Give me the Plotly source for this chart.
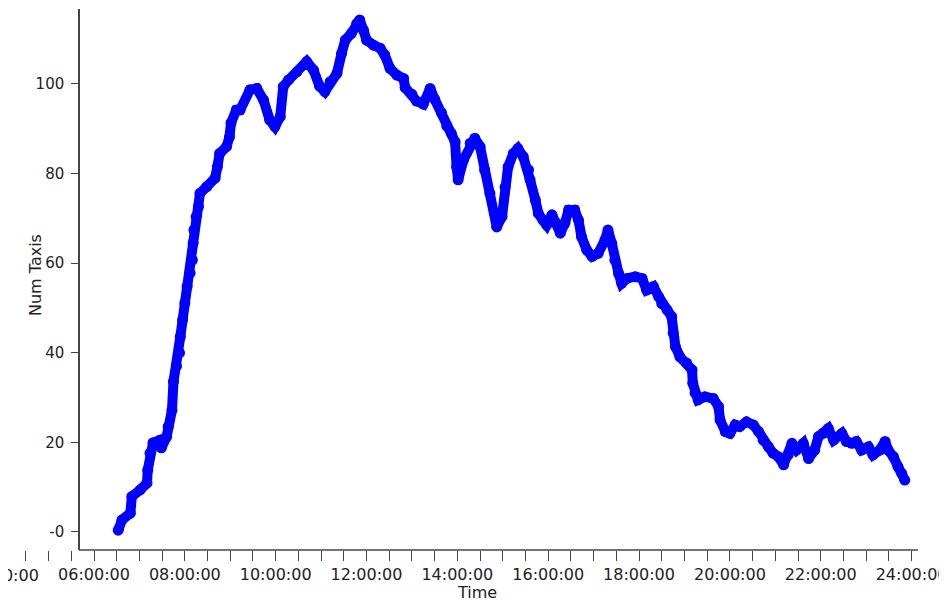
import plotly.graph_objects as go

# ---- data ----
times = [
    "06:32", "06:37", "06:48", "06:50", "07:01", "07:10", "07:11", "07:14", "07:18", "07:27",
    "07:29", "07:36", "07:38", "07:43", "07:45", "07:49", "07:53", "07:54", "07:57", "08:00",
    "08:03", "08:07", "08:10", "08:11", "08:12", "08:15", "08:18", "08:20", "08:29", "08:40",
    "08:43", "08:46", "08:55", "08:59", "09:01", "09:08", "09:13", "09:26", "09:35", "09:44",
    "09:52", "09:59", "10:06", "10:10", "10:17", "10:28", "10:41", "10:50", "10:58", "11:05",
    "11:12", "11:21", "11:27", "11:32", "11:40", "11:47", "11:51", "11:56", "12:00", "12:09",
    "12:18", "12:24", "12:31", "12:40", "12:49", "12:51", "13:00", "13:06", "13:15", "13:24",
    "13:30", "13:39", "13:46", "13:52", "13:57", "13:59", "14:01", "14:08", "14:17", "14:23",
    "14:30", "14:36", "14:43", "14:50", "14:52", "14:59", "15:03", "15:07", "15:14", "15:20",
    "15:27", "15:34", "15:36", "15:43", "15:47", "15:53", "15:58", "16:05", "16:11", "16:16",
    "16:22", "16:27", "16:35", "16:40", "16:44", "16:51", "16:58", "17:06", "17:15", "17:19",
    "17:24", "17:28", "17:33", "17:37", "17:44", "17:55", "18:04", "18:10", "18:19", "18:26",
    "18:30", "18:37", "18:43", "18:45", "18:48", "18:54", "19:03", "19:10", "19:11", "19:14",
    "19:18", "19:27", "19:38", "19:45", "19:47", "19:54", "20:00", "20:07", "20:13", "20:22",
    "20:31", "20:38", "20:44", "20:51", "20:57", "21:04", "21:11", "21:17", "21:22", "21:28",
    "21:37", "21:44", "21:52", "21:57", "22:03", "22:10", "22:17", "22:28", "22:34", "22:41",
    "22:47", "22:54", "23:03", "23:09", "23:18", "23:25", "23:29", "23:36", "23:42", "23:47",
    "23:51",
]
num_taxis = [
    0.4, 2.7, 4.2, 7.9, 9.4, 10.9, 13.8, 17.6, 19.9, 20.5,
    18.8, 21.3, 23.5, 27.2, 33.6, 37.0, 40.0, 43.6, 47.3, 51.1,
    54.8, 57.8, 60.7, 64.5, 67.4, 70.4, 72.6, 75.6, 77.1, 79.0,
    81.5, 84.5, 86.0, 88.2, 91.3, 94.2, 94.2, 98.7, 99.0, 96.4,
    92.0, 90.5, 92.7, 99.4, 100.9, 102.7, 105.0, 103.1, 99.5, 98.3,
    100.5, 102.4, 106.8, 109.8, 111.3, 113.5, 114.3, 112.0, 109.8, 108.7,
    108.0, 106.5, 103.5, 102.0, 101.2, 99.2, 97.7, 96.2, 95.5, 99.0,
    96.6, 93.6, 90.6, 89.0, 87.1, 81.5, 78.6, 83.0, 86.8, 87.9,
    86.0, 80.8, 75.6, 71.1, 68.1, 70.4, 77.0, 81.5, 84.5, 85.6,
    83.8, 80.8, 78.6, 74.1, 71.1, 69.6, 68.5, 70.8, 68.9, 66.7,
    68.9, 71.9, 71.9, 69.6, 65.9, 62.9, 61.5, 62.2, 65.2, 67.4,
    64.4, 60.7, 57.7, 55.5, 56.6, 57.0, 56.6, 54.0, 54.8, 52.5,
    51.0, 49.6, 48.1, 44.4, 41.4, 39.1, 37.7, 36.2, 33.2, 31.0,
    29.5, 30.2, 29.8, 28.0, 25.0, 22.4, 22.0, 23.9, 23.5, 24.6,
    23.9, 22.4, 20.5, 19.0, 17.6, 16.8, 15.0, 17.2, 19.8, 18.3,
    19.8, 16.4, 18.3, 21.3, 22.0, 23.1, 20.5, 22.0, 20.2, 19.8,
    20.2, 18.3, 19.0, 17.2, 18.3, 20.2, 18.3, 16.8, 14.6, 13.1,
    11.6,
]
x_tick_hours = [6, 8, 10, 12, 14, 16, 18, 20, 22, 24]
x_tick_labels = ["%02d:00:00" % h for h in x_tick_hours]
cut_tick_label = "04:00:00"
y_tick_vals = [0, 20, 40, 60, 80, 100]
y_tick_labels = ["-0", "20", "40", "60", "80", "100"]


def to_minutes(s):
    h, m = s.split(":")
    return int(h) * 60 + int(m)


x_vals = [to_minutes(t) for t in times]

FONT = "DejaVu Sans"
AX = "#444444"
TXT = "#222222"
# the page body adds an 8px offset, so the figure is 8px smaller than the window
W, H = 939, 593
ML, MR, MT, MB = 0, 29, 1, 51
PW = W - ML - MR          # 910
PH = H - MT - MB          # 541
YAX_PX = 71               # y-axis line position inside the plot area

fig = go.Figure()
fig.add_trace(go.Scatter(
    x=x_vals, y=num_taxis, mode="lines+markers",
    line=dict(color="#0000ff", width=10),
    marker=dict(color="#0000ff", size=11),
    hoverinfo="skip", showlegend=False,
))

fig.update_layout(
    width=W, height=H,
    margin=dict(l=ML, r=MR, t=MT, b=MB, pad=0),
    paper_bgcolor="white", plot_bgcolor="white",
    font=dict(family=FONT, size=15, color=TXT),
    xaxis=dict(
        range=[246.4, 1448.5],
        tickmode="array",
        tickvals=[h * 60 for h in x_tick_hours],
        ticktext=x_tick_labels,
        ticks="outside", ticklen=10, tickcolor=AX, tickwidth=1.3,
        showline=False, showgrid=False, zeroline=False,
        ticklabeloverflow="allow", automargin=False,
        tickfont=dict(family=FONT, size=16, color=TXT),
        minor=dict(
            tickmode="array",
            tickvals=[240 + 30 * i for i in range(41)],
            ticks="outside", ticklen=10, tickcolor=AX, tickwidth=1.3,
            showgrid=False,
        ),
    ),
    yaxis=dict(
        range=[-4.02, 116.74],
        anchor="free", position=YAX_PX / PW,
        tickmode="array", tickvals=y_tick_vals, ticktext=y_tick_labels,
        ticks="outside", ticklen=7, tickcolor=AX, tickwidth=1.3,
        ticklabelstandoff=4,
        showline=True, linecolor=AX, linewidth=1.5,
        showgrid=False, zeroline=False, automargin=False,
        tickfont=dict(family=FONT, size=15, color=TXT),
    ),
    shapes=[dict(
        type="line", xref="paper", yref="paper",
        x0=YAX_PX / PW, x1=1, y0=0, y1=0,
        line=dict(color=AX, width=1.5),
    )],
    annotations=[
        dict(text=cut_tick_label, xref="paper", yref="paper",
             x=-4.7 / PW, y=-(567 - (H - MB)) / PH,
             xanchor="center", yanchor="middle", showarrow=False,
             font=dict(family=FONT, size=16, color=TXT)),
        dict(text="Time", xref="paper", yref="paper",
             x=469 / PW, y=-(584 - (H - MB)) / PH,
             xanchor="center", yanchor="middle", showarrow=False,
             font=dict(family=FONT, size=16, color=TXT)),
        dict(text="Num Taxis", xref="paper", yref="paper",
             x=27 / PW, y=(H - MB - 267) / PH,
             xanchor="center", yanchor="middle", textangle=-90, showarrow=False,
             font=dict(family=FONT, size=16, color=TXT)),
    ],
)

fig.write_html("out.html")
